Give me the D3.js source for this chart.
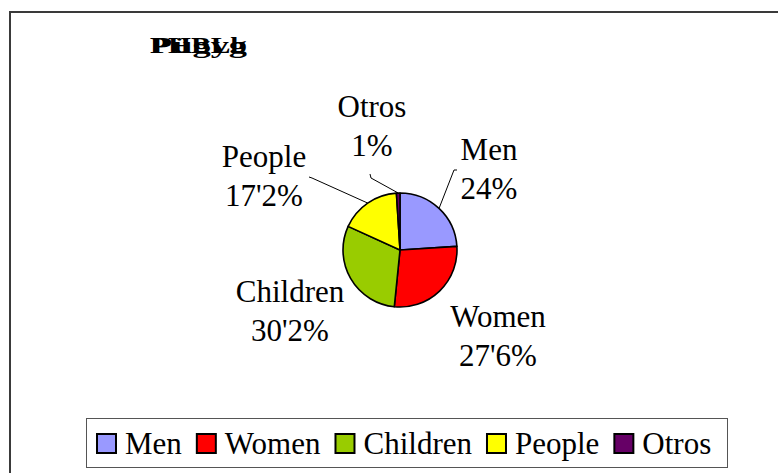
<!DOCTYPE html>
<html>
<head>
  <meta charset="UTF-8">
  <script src="https://cdn.jsdelivr.net/npm/d3@7"></script>
</head>
<body style="margin:0">
  <div id="chart"></div>

  <script>
    // Data
    var categories = ["Men", "Women", "Children", "People", "Otros"];
    var values = [24, 27.6, 30.2, 17.2, 1];
    var valueLabels = ["24%", "27'6%", "30'2%", "17'2%", "1%"];
    var colors = ["#9999ff", "#ff0000", "#99cc00", "#ffff00", "#660066"];

    // garbled title fragments, drawn on top of each other
    var titleParts = ["PHBLb", "P\u00fcgyg"];

    var width = 778, height = 473;
    var cx = 400, cy = 250, radius = 57;
    var serif = "Liberation Serif, Times New Roman, Tinos, serif";

    // label anchor (centre x, first baseline) and leader end per slice
    var labelPos = [
      { x: 489, y: 160, lead: [[454, 170], [457, 170]] },
      { x: 498, y: 327, lead: null },
      { x: 290, y: 302, lead: null },
      { x: 264, y: 167, lead: [[312, 178], [309, 177]] },
      { x: 372, y: 117, lead: [[371, 178], [370, 174]] }
    ];

    var svg = d3.select("#chart")
      .append("svg")
      .attr("width", width)
      .attr("height", height)
      .attr("font-family", serif)
      .style("font-family", serif);

    // outer frame, runs off the right and bottom edges
    svg.append("rect")
      .attr("x", 10)
      .attr("y", 12)
      .attr("width", 800)
      .attr("height", 500)
      .attr("fill", "#fff")
      .attr("stroke", "#3a3a3a")
      .attr("stroke-width", 2);

    // title
    titleParts.forEach(function (s) {
      svg.append("text")
        .attr("x", 150)
        .attr("y", 53)
        .attr("font-size", 23)
        .attr("font-weight", "bold")
        .attr("font-family", serif)
        .attr("textLength", 97)
        .attr("lengthAdjust", "spacingAndGlyphs")
        .style("font-family", serif)
        .text(s);
    });

    var pieData = d3.pie().sort(null).value(d => d)(values);
    var arc = d3.arc().innerRadius(0).outerRadius(radius);

    var g = svg.append("g").attr("transform", `translate(${cx},${cy})`);

    g.selectAll("path")
      .data(pieData)
      .enter()
      .append("path")
      .attr("d", arc)
      .attr("fill", (d, i) => colors[i])
      .attr("stroke", "#000")
      .attr("stroke-width", 1.6)
      .attr("stroke-linejoin", "round");

    // leader lines
    pieData.forEach(function (d, i) {
      var lp = labelPos[i];
      if (!lp.lead) return;
      var mid = (d.startAngle + d.endAngle) / 2;
      var sx = cx + Math.sin(mid) * radius;
      var sy = cy - Math.cos(mid) * radius;
      var pts = [[sx, sy]].concat(lp.lead);
      svg.append("path")
        .attr("d", d3.line()(pts))
        .attr("fill", "none")
        .attr("stroke", "#000")
        .attr("stroke-width", 1);
    });

    // labels, two lines each
    categories.forEach(function (c, i) {
      var lp = labelPos[i];
      [c, valueLabels[i]].forEach(function (s, j) {
        svg.append("text")
          .attr("x", lp.x)
          .attr("y", lp.y + j * 39)
          .attr("text-anchor", "middle")
          .attr("font-size", 31)
          .attr("font-family", serif)
          .style("font-family", serif)
          .text(s);
      });
    });

    // legend
    svg.append("rect")
      .attr("x", 86.5)
      .attr("y", 418.5)
      .attr("width", 641)
      .attr("height", 49)
      .attr("fill", "#fff")
      .attr("stroke", "#555")
      .attr("stroke-width", 1);

    var x0 = 97;
    categories.forEach(function (c, i) {
      svg.append("rect")
        .attr("x", x0)
        .attr("y", 434)
        .attr("width", 19).attr("height", 19)
        .attr("fill", colors[i])
        .attr("stroke", "#000")
        .attr("stroke-width", 2);
      var txt = svg.append("text")
        .attr("x", x0 + 28)
        .attr("y", 454)
        .attr("font-size", 31)
        .attr("font-family", serif)
        .style("font-family", serif)
        .text(c);
      x0 += 28 + txt.node().getComputedTextLength() + 15;
    });
  </script>
</body>
</html>
